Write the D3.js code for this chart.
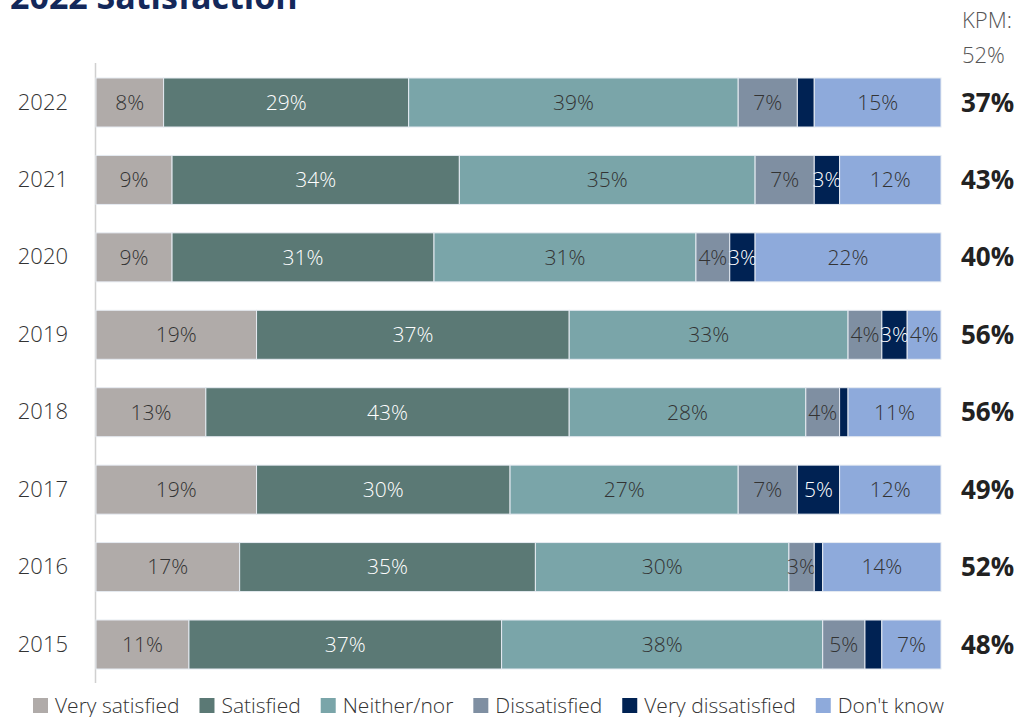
<!DOCTYPE html>
<html><head><meta charset="utf-8">
<script src="https://cdn.jsdelivr.net/npm/d3@7"></script>
<style>body{margin:0;background:#fff;} svg{display:block;}</style>
</head><body>
<svg id="c" width="1023" height="717"></svg>
<script>
const years = ["2022","2021","2020","2019","2018","2017","2016","2015"];
const seriesNames = ["Very satisfied","Satisfied","Neither/nor","Dissatisfied","Very dissatisfied","Don't know"];
const verySatisfied    = [8, 9, 9, 19, 13, 19, 17, 11];
const satisfied        = [29, 34, 31, 37, 43, 30, 35, 37];
const neitherNor       = [39, 35, 31, 33, 28, 27, 30, 38];
const dissatisfied     = [7, 7, 4, 4, 4, 7, 3, 5];
const veryDissatisfied = [2, 3, 3, 3, 1, 5, 1, 2];
const dontKnow         = [15, 12, 22, 4, 11, 12, 14, 7];
const kpm              = [37, 43, 40, 56, 56, 49, 52, 48];
const kpmTarget = "52%";
const colors = ["#b0aba9","#5b7975","#7aa5a9","#7f8fa2","#002253","#8eaadb"];
const labelColors = ["#333","#fff","#333","#333","#fff","#333"];

const svg = d3.select("#c");
const font = "'Source Sans Pro','Open Sans','Noto Sans',sans-serif";

const table = years.map((y,i)=>({year:y,
  "Very satisfied":verySatisfied[i],"Satisfied":satisfied[i],"Neither/nor":neitherNor[i],
  "Dissatisfied":dissatisfied[i],"Very dissatisfied":veryDissatisfied[i],"Don't know":dontKnow[i]}));
const stack = d3.stack().keys(seriesNames)(table);

const x = d3.scaleLinear().domain([0,100]).range([96,941]);
const y = d3.scaleBand().domain(years).range([78,669]).paddingInner(0.367).paddingOuter(0);

// title
svg.append("text").attr("x",10).attr("y",9).attr("font-family",font).attr("font-weight",700)
  .attr("font-size",34).attr("fill","#14285a").text("2022 Satisfaction");

// axis line
svg.append("line").attr("x1",95.5).attr("x2",95.5).attr("y1",63).attr("y2",683)
  .attr("stroke","#d0d0d0").attr("stroke-width",1.5);

// year labels
const yAxis = svg.append("g").attr("transform","translate(68,0)")
  .call(d3.axisLeft(y).tickSize(0).tickPadding(0));
yAxis.select(".domain").remove();
yAxis.selectAll("text").attr("font-family",font).attr("font-size",22).attr("font-weight",300).attr("fill","#333");

// bars
const g = svg.append("g");
stack.forEach((layer,li)=>{
  const lg = g.append("g");
  lg.selectAll("rect").data(layer).join("rect")
    .attr("x",d=>x(d[0])).attr("width",d=>x(d[1])-x(d[0]))
    .attr("y",d=>y(d.data.year)).attr("height",y.bandwidth())
    .attr("fill",colors[li]).attr("stroke","#e6ebf2").attr("stroke-width",1);
  lg.selectAll("text").data(layer.filter(d=>d[1]-d[0]>=3)).join("text")
    .attr("x",d=>(x(d[0])+x(d[1]))/2).attr("y",d=>y(d.data.year)+y.bandwidth()/2)
    .attr("dy","0.35em").attr("text-anchor","middle")
    .attr("font-family",font).attr("font-size",21).attr("font-weight",300)
    .attr("fill",labelColors[li]).text(d=>(d[1]-d[0])+"%");
});

// KPM
svg.append("text").attr("x",962).attr("y",28).attr("font-family",font).attr("font-size",22)
  .attr("font-weight",300).attr("fill","#555").text("KPM:");
svg.append("text").attr("x",962).attr("y",63).attr("font-family",font).attr("font-size",22)
  .attr("font-weight",300).attr("fill","#555").text(kpmTarget);
svg.append("g").selectAll("text").data(years).join("text")
  .attr("x",961).attr("y",d=>y(d)+y.bandwidth()/2).attr("dy","0.35em")
  .attr("font-family",font).attr("font-size",26).attr("font-weight",700).attr("fill","#222")
  .text((d,i)=>kpm[i]+"%");

// legend
const leg = svg.append("g");
let lx = 33;
seriesNames.forEach((n,i)=>{
  leg.append("rect").attr("x",lx).attr("y",698).attr("width",15).attr("height",15).attr("fill",colors[i]);
  const t = leg.append("text").attr("x",lx+22).attr("y",713).attr("font-family",font).attr("font-size",21)
    .attr("font-weight",300).attr("fill","#333").text(n);
  lx += 22 + t.node().getComputedTextLength() + 20;
});
</script>
</body></html>
